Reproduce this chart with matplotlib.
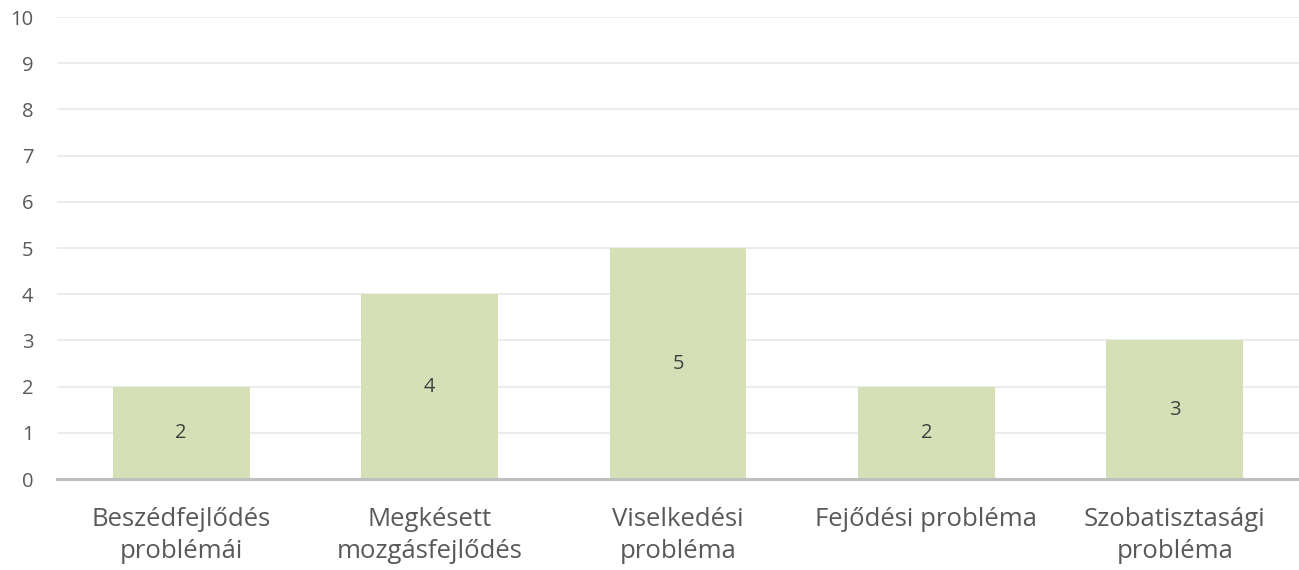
import matplotlib
matplotlib.use("Agg")
import matplotlib.pyplot as plt

# data
categories = ["Beszédfejlődés\nproblémái", "Megkésett\nmozgásfejlődés",
              "Viselkedési\nprobléma", "Fejődési probléma",
              "Szobatisztasági\nprobléma"]
values = [2, 4, 5, 2, 3]
yticks = list(range(0, 11))

plt.rcParams['font.family'] = ['Open Sans', 'DejaVu Sans']
text_color = '#595959'

fig = plt.figure(figsize=(12.99, 5.7), dpi=100)
ax = fig.add_axes([0.0439, 0.1596, 0.9561, 0.8104])

x = range(len(categories))
bars = ax.bar(x, values, width=0.55, color='#d5e0b6', zorder=2)

for b, v in zip(bars, values):
    ax.text(b.get_x() + b.get_width() / 2, v / 2, str(v), ha='center', va='center',
            fontsize=14.5, color='#404040', zorder=3)

ax.set_xlim(-0.5, len(categories) - 0.5)
ax.set_ylim(0, 10)
ax.set_yticks(yticks)
ax.set_xticks(list(x))
ax.set_xticklabels(categories, fontsize=18.5, color=text_color, linespacing=1.38)
ax.tick_params(axis='y', labelsize=14.5, labelcolor=text_color, length=0, pad=17)
ax.tick_params(axis='x', length=0, pad=20)

ax.grid(axis='y', color='#ebebeb', linewidth=1.3, zorder=0)
for s in ['top', 'right', 'left']:
    ax.spines[s].set_visible(False)
ax.spines['bottom'].set_color('#bfbfbf')
ax.spines['bottom'].set_linewidth(2.2)
ax.spines['bottom'].set_zorder(4)

fig.savefig("out.png", dpi=100)
